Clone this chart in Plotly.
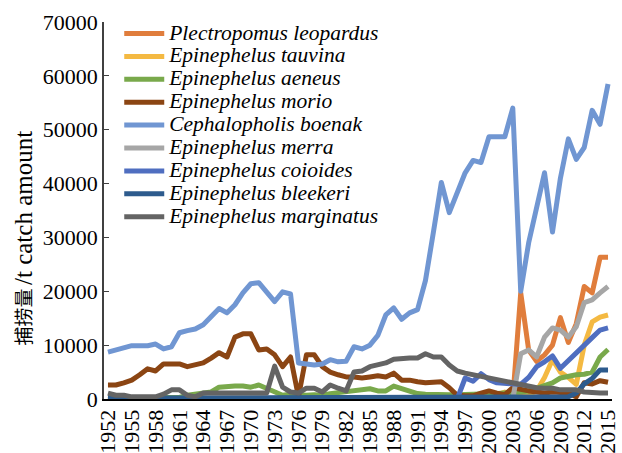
import plotly.graph_objects as go

years = list(range(1952, 2016))
tick_years = list(range(1952, 2016, 3))

names = ["Plectropomus leopardus", "Epinephelus tauvina", "Epinephelus aeneus",
         "Epinephelus morio", "Cephalopholis boenak", "Epinephelus merra",
         "Epinephelus coioides", "Epinephelus bleekeri", "Epinephelus marginatus"]

colors = ["#E07D3C", "#F4B942", "#79A94B", "#8B4513", "#7096D2",
          "#A6A6A6", "#4F6EC0", "#2D5B8D", "#646464"]

plectropomus_leopardus = [0]*52 + [19700, 9100, 7000, 8200, 10000, 15100, 10500, 14000, 20900, 19700, 26300, 26300]
epinephelus_tauvina = [0]*49 + [800, 1300, 300, 500, 800, 1500, 4000, 7300, 5000, 4000, 2700, 10000, 14300, 15200, 15600]
epinephelus_aeneus = [300, 300, 300, 300, 300, 300, 300, 300, 300, 300,
                      700, 900, 1100, 1300, 2200, 2400, 2400, 2400, 2200, 2600,
                      2000, 1500, 700, 900, 700, 700, 800, 700, 1000, 1200,
                      1300, 1500, 1700, 1900, 1500, 1500, 2400, 2000, 1500, 1000,
                      900, 800, 800, 800, 800, 800, 800, 800, 900, 1000,
                      1100, 1100, 1300, 1500, 2000, 2600, 3000, 3900, 4300, 4500,
                      4600, 5000, 7800, 9200]
epinephelus_morio = [2600, 2600, 3000, 3500, 4500, 5600, 5200, 6500, 6500, 6500,
                     6000, 6300, 6700, 7600, 8600, 7800, 11500, 12100, 12100, 9100,
                     9300, 8200, 6000, 7800, 400, 8200, 8200, 6000, 5000, 4500,
                     4100, 4100, 3900, 4100, 4300, 4100, 4800, 3500, 3500, 3200,
                     3000, 3100, 3200, 2100, 700, 600, 600, 1100, 1500, 1100,
                     800, 2100, 1700, 1500, 1300, 1100, 1300, 1200, 1100, 400,
                     3000, 2800, 3400, 3100]
cephalopholis_boenak = [8700, 9100, 9500, 9900, 9900, 9900, 10200, 9300, 9700, 12300,
                        12700, 13000, 13800, 15300, 16800, 16000, 17500, 19700, 21400, 21600,
                        19700, 18100, 19900, 19500, 6700, 6500, 6300, 6500, 7300, 6900,
                        7000, 9700, 9300, 10000, 11800, 15600, 16900, 14800, 16000, 16600,
                        22000, 31000, 40200, 34600, 38500, 42000, 44300, 43900, 48700, 48700,
                        48700, 54000, 20000, 29000, 36000, 42000, 31000, 41000, 48300, 44500,
                        46700, 53600, 51000, 58500]
epinephelus_merra = [0]*52 + [8400, 9100, 7800, 11500, 13200, 12800, 11500, 13400, 17900, 18400, 19700, 20900]
epinephelus_coioides = [0]*45 + [3900, 3300, 4700, 3600, 3000, 2900, 2800, 2700, 4000, 6000,
                                 6900, 8000, 5700, 7200, 8700, 10100, 11400, 12800, 13200]
epinephelus_bleekeri = [400, 300, 200, 200, 200, 200, 200, 200, 400, 400] + [200]*48 + [400, 1100, 2800, 3800, 5400, 5400]
epinephelus_marginatus = [1100, 700, 700, 400, 400, 400, 400, 900, 1700, 1700,
                          700, 400, 1100, 1100, 1100, 1100, 1100, 1100, 1100, 1100,
                          1100, 6100, 2200, 1300, 1100, 2000, 2000, 1300, 2600, 2000,
                          1500, 5000, 5200, 6000, 6300, 6700, 7400, 7600, 7600, 7600,
                          8400, 7800, 7800, 6300, 5200, 4800, 4500, 4100, 3700, 3400,
                          3200, 3000, 2600, 2200, 2100, 2000, 2000, 1700, 1700, 1700,
                          1300, 1100, 1100, 1100]

series = [plectropomus_leopardus, epinephelus_tauvina, epinephelus_aeneus,
          epinephelus_morio, cephalopholis_boenak, epinephelus_merra,
          epinephelus_coioides, epinephelus_bleekeri, epinephelus_marginatus]

y_ticks = [0, 10000, 20000, 30000, 40000, 50000, 60000, 70000]

title_cjk = "捕捞量"
title_latin = "/t catch amount"

FONT = "Liberation Serif"
CJK = "Noto Sans CJK SC"

fig = go.Figure()
for name, col, vals in zip(names, colors, series):
    fig.add_trace(go.Scatter(
        x=years, y=vals, mode="lines",
        name='<span style="font-size:21.5px"><i>' + name + '</i></span>',
        line=dict(color=col, width=5),
    ))

split_y = (399 - 287) / 377
fig.update_layout(
    width=622, height=453,
    margin=dict(l=104, r=10, t=22, b=54, autoexpand=False),
    paper_bgcolor="white", plot_bgcolor="white",
    font=dict(family=FONT, size=22, color="#000000"),
    showlegend=True,
    legend=dict(x=0.03, y=1.013, xanchor="left", yanchor="top",
                font=dict(family=FONT, size=15.3, color="#000000"),
                bgcolor="rgba(0,0,0,0)", borderwidth=0,
                itemwidth=40, tracegroupgap=0),
    xaxis=dict(range=[1951.5, 2015.5], tickmode="array", tickvals=tick_years,
               ticktext=[str(y) for y in tick_years], tickangle=-90,
               showgrid=False, zeroline=False, showline=True, automargin=False,
               linecolor="#000000", linewidth=2, ticks="",
               tickfont=dict(family=FONT, size=22, color="#000000")),
    yaxis=dict(range=[0, 70000], tickmode="array", tickvals=y_ticks,
               ticktext=[str(v) for v in y_ticks], automargin=False,
               showgrid=False, zeroline=False, showline=True,
               linecolor="#404040", linewidth=1.5, ticks="inside", ticklen=5,
               tickcolor="#404040",
               tickfont=dict(family=FONT, size=22, color="#000000")),
    annotations=[
        dict(text=title_cjk, textangle=-90,
             xref="paper", yref="paper", x=(22-104)/508, y=split_y,
             xanchor="center", yanchor="top", showarrow=False,
             font=dict(family=CJK, size=19, color="#000000")),
        dict(text=title_latin, textangle=-90,
             xref="paper", yref="paper", x=(23-104)/508, y=split_y,
             xanchor="center", yanchor="bottom", showarrow=False,
             font=dict(family=FONT, size=25, color="#000000")),
    ],
)

post = """
document.body.style.margin = '0';
document.body.style.padding = '0';
document.querySelectorAll('.scatterlayer path.js-line, .legend path').forEach(function(p){
  p.style.strokeLinejoin = 'round';
});
"""
fig.write_html("out.html", post_script=post, config={"displayModeBar": False})
